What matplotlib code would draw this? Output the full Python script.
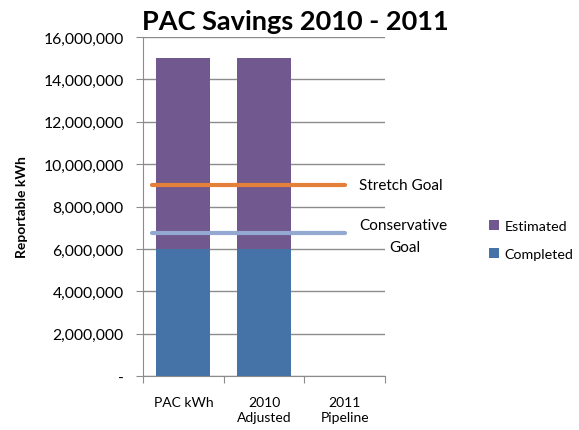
import matplotlib
matplotlib.use("Agg")
import matplotlib.pyplot as plt
from matplotlib.ticker import FuncFormatter

categories = ["PAC kWh", "2010\nAdjusted", "2011\nPipeline"]
completed = [6000000, 6000000, 0]
estimated = [9000000, 9000000, 0]
stretch_goal = 9000000
conservative_goal = 6750000

plt.rcParams["font.family"] = ["Lato", "DejaVu Sans"]

fig = plt.figure(figsize=(5.79, 4.31), dpi=100)
ax = fig.add_axes([0.247, 0.125, 0.418, 0.787])

x = range(len(categories))
ax.bar(x, completed, width=0.67, color="#4572a7", zorder=2, label="Completed")
ax.bar(x, estimated, width=0.67, bottom=completed, color="#71588f", zorder=2,
       label="Estimated")

ax.hlines(stretch_goal, -0.39, 2.0, color="#e4803a", lw=3, zorder=3,
          capstyle="round")
ax.hlines(conservative_goal, -0.39, 2.0, color="#93a9d1", lw=3, zorder=3,
          capstyle="round")
lbl = dict(fontsize=11, va="center", ha="left", clip_on=False)
ax.text(2.18, stretch_goal, "Stretch Goal", **lbl)
ax.text(2.18, conservative_goal + 400000, "Conservative", **lbl)
ax.text(2.55, conservative_goal - 650000, "Goal", **lbl)

ax.set_xlim(-0.5, 2.5)
ax.set_ylim(0, 16000000)
ax.set_yticks(range(0, 16000001, 2000000))
ax.yaxis.set_major_formatter(FuncFormatter(lambda v, p: "-" if v == 0 else f"{v:,.0f}"))
ax.yaxis.grid(True, color="#8c8c8c", lw=1, zorder=0)
ax.set_axisbelow(True)

ax.set_xticks([-0.5, 0.5, 1.5, 2.5])
ax.set_xticklabels([])
ax.set_xticks(list(x), minor=True)
ax.set_xticklabels(categories, minor=True, fontsize=10, linespacing=1.35)
ax.tick_params(axis="x", which="minor", length=0, pad=14)
ax.tick_params(axis="x", which="major", length=5, color="#8c8c8c")
ax.tick_params(axis="y", length=5, color="#8c8c8c", labelsize=11.3, pad=9)

for side in ("top", "right"):
    ax.spines[side].set_visible(False)
for side in ("left", "bottom"):
    ax.spines[side].set_color("#8c8c8c")

ax.set_ylabel("Reportable kWh", fontsize=10, fontweight="bold", labelpad=11)

fig.text(0.51, 0.95, "PAC Savings 2010 - 2011", fontsize=19.5, fontweight="bold",
         ha="center", va="center")

handles, labels = ax.get_legend_handles_labels()
fig.legend(handles[::-1], labels[::-1], loc="center left",
           bbox_to_anchor=(0.822, 0.44), frameon=False, fontsize=10.3,
           handlelength=0.7, handleheight=0.7, handletextpad=0.4,
           labelspacing=1.1)

fig.savefig("out.png", dpi=100)
